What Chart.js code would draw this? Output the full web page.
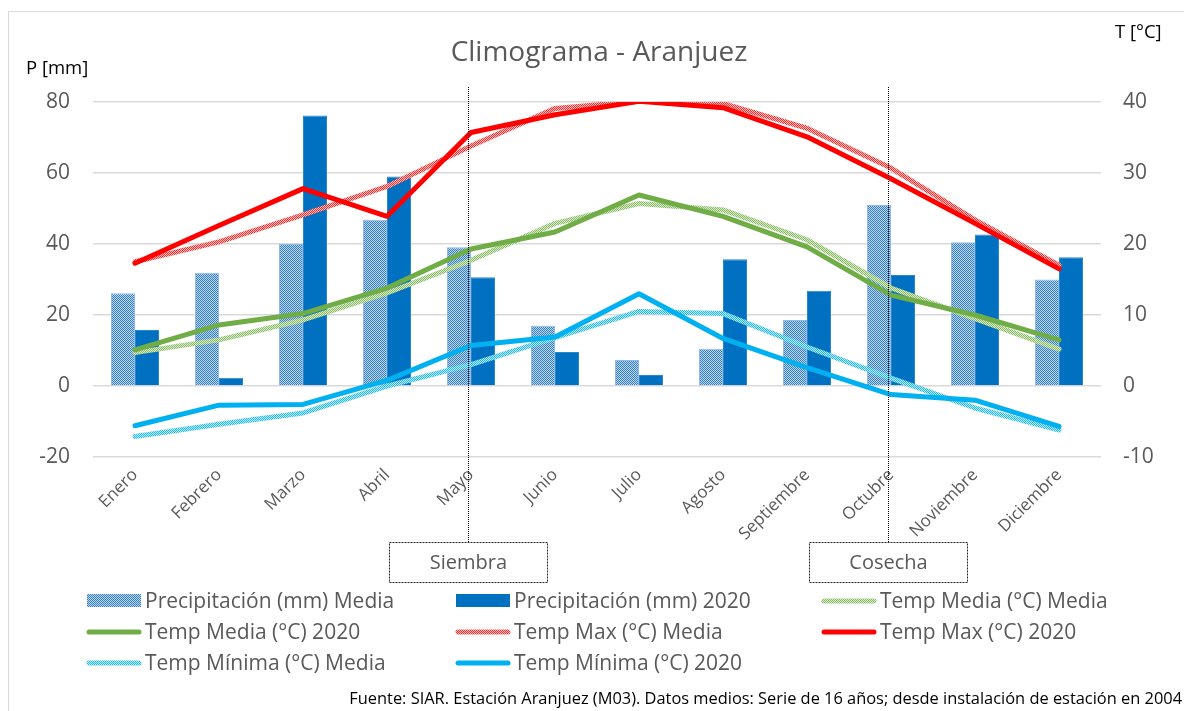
<!DOCTYPE html>
<html lang="es">
<head>
<meta charset="utf-8">
<title>Climograma - Aranjuez</title>
<script src="https://cdn.jsdelivr.net/npm/chart.js@4.4.1/dist/chart.umd.min.js"></script>
<style>
  html, body { margin: 0; padding: 0; background: #fff; overflow: hidden; }
  #wrap { position: relative; width: 1184px; height: 711px; overflow: hidden; }
  #frame { position: absolute; left: 8px; top: 11px; width: 1200px; height: 730px;
           border: 1px solid #d9d9d9; box-sizing: border-box; }
  canvas { position: absolute; left: 0; top: 0; }
</style>
</head>
<body>
<div id="wrap">
  <div id="frame"></div>
  <canvas id="c" width="1184" height="711"></canvas>
</div>
<script>
// Months on the category axis
const months = ['Enero', 'Febrero', 'Marzo', 'Abril', 'Mayo', 'Junio', 'Julio',
                'Agosto', 'Septiembre', 'Octubre', 'Noviembre', 'Diciembre'];

// Precipitation (mm)
const precipMedia = [26.1, 31.9, 40.0, 46.8, 39.1, 17.0, 7.3, 10.5, 18.6, 51.0, 40.5, 30.0];
const precip2020  = [15.8, 2.3, 76.2, 59.0, 30.6, 9.6, 3.1, 35.7, 26.8, 31.3, 42.7, 36.3];

// Temperatures (°C)
const tMediaMedia = [4.7, 6.5, 9.3, 13.1, 17.7, 22.9, 25.7, 24.8, 20.6, 13.8, 9.5, 5.2];
const tMedia2020  = [5.1, 8.6, 10.2, 13.8, 19.3, 21.7, 26.9, 23.9, 19.6, 12.8, 10.0, 6.5];
const tMaxMedia   = [17.5, 20.3, 24.1, 28.1, 33.8, 39.1, 40.1, 39.8, 36.3, 30.7, 23.4, 17.0];
const tMax2020    = [17.3, 22.6, 27.8, 23.9, 35.7, 38.2, 40.1, 39.2, 35.1, 29.2, 22.9, 16.5];
const tMinMedia   = [-7.1, -5.4, -3.8, 0.0, 3.0, 6.8, 10.5, 10.2, 5.5, 1.1, -3.1, -6.2];
const tMin2020    = [-5.6, -2.7, -2.6, 0.8, 5.7, 6.9, 13.0, 6.7, 2.6, -1.2, -2.0, -5.7];

// Axis ranges and tick steps
const pTicks = { min: -20, max: 80, step: 20 };
const tTicks = { min: -10, max: 40, step: 10 };

// Crop calendar marks (month labels they hang from)
const marks = [ { month: 'Mayo', text: 'Siembra' }, { month: 'Octubre', text: 'Cosecha' } ];

const titleText  = 'Climograma - Aranjuez';
const footerText = 'Fuente: SIAR. Estación Aranjuez (M03). Datos medios: Serie de 16 años; desde instalación de estación en 2004';

const FONT = '"Open Sans", "DejaVu Sans", sans-serif';
const GREY = '#595959';
const AREA = { left: 93, top: 102, right: 1101, bottom: 457 };

const canvas = document.getElementById('c');
const ctx = canvas.getContext('2d');

// Two-colour checker used for the long-term average series
function checker(a, b) {
  const t = document.createElement('canvas');
  t.width = 2; t.height = 2;
  const g = t.getContext('2d');
  g.fillStyle = b; g.fillRect(0, 0, 2, 2);
  g.fillStyle = a; g.fillRect(0, 0, 1, 1); g.fillRect(1, 1, 1, 1);
  return ctx.createPattern(t, 'repeat');
}

const blueDots  = checker('#3580c5', '#bcd6ef');
const greenDots = checker('#86bb62', '#dcecd0');
const redDots   = checker('#ff2a2a', '#ffc4c4');
const cyanDots  = checker('#1cb9f2', '#c2ecfc');

function lineSet(label, data, color, order) {
  return {
    type: 'line', label, data, yAxisID: 'y2', order,
    borderColor: color, backgroundColor: color, borderWidth: 5,
    pointRadius: 0, tension: 0, fill: false,
    borderJoinStyle: 'round', borderCapStyle: 'round'
  };
}

const datasets = [
  { type: 'bar', label: 'Precipitación (mm) Media', data: precipMedia, yAxisID: 'y', order: 20,
    backgroundColor: blueDots, borderColor: '#8dbbe6', borderWidth: 1,
    categoryPercentage: 0.572, barPercentage: 1 },
  { type: 'bar', label: 'Precipitación (mm) 2020', data: precip2020, yAxisID: 'y', order: 20,
    backgroundColor: '#0070c0', borderColor: '#2a86cf', borderWidth: 1,
    categoryPercentage: 0.572, barPercentage: 1 },
  lineSet('Temp Media (°C) Media', tMediaMedia, greenDots, 10),
  lineSet('Temp Media (°C) 2020', tMedia2020, '#70ad47', 0),
  lineSet('Temp Max (°C) Media', tMaxMedia, redDots, 10),
  lineSet('Temp Max (°C) 2020', tMax2020, '#ff0000', 0),
  lineSet('Temp Mínima (°C) Media', tMinMedia, cyanDots, 10),
  lineSet('Temp Mínima (°C) 2020', tMin2020, '#00b0f0', 0)
];

// Legend grid: [dataset index, column, row]
const legendCells = [[0,0,0],[1,1,0],[2,2,0],[3,0,1],[4,1,1],[5,2,1],[6,0,2],[7,1,2]];
const legendCols = [87, 456, 822];
const legendRows = [601, 632, 663];

const decorations = {
  id: 'decorations',
  afterDraw(chart) {
    const c = chart.ctx;
    const xs = chart.scales.x;
    c.save();

    // Title and axis captions
    c.fillStyle = GREY;
    c.textAlign = 'center'; c.textBaseline = 'middle';
    c.font = '28px ' + FONT;
    c.fillText(titleText, 599, 53);
    c.fillStyle = '#000';
    c.font = '18.5px ' + FONT;
    c.textAlign = 'left';
    c.fillText('P [mm]', 26, 69);
    c.fillText('T [°C]', 1115, 33);

    // Sowing / harvest markers
    marks.forEach(m => {
      const x = Math.round(xs.getPixelForValue(months.indexOf(m.month))) - 2.5;
      c.strokeStyle = '#000'; c.lineWidth = 1; c.setLineDash([1, 1]);
      c.beginPath(); c.moveTo(x, 87); c.lineTo(x, 542); c.stroke();
      c.strokeStyle = '#262626'; c.setLineDash([2, 1]);
      c.strokeRect(x - 79, 542.5, 158, 40);
      c.setLineDash([]);
      c.fillStyle = GREY; c.font = '20px ' + FONT;
      c.textAlign = 'center';
      c.fillText(m.text, x, 563);
    });

    // Legend
    c.textAlign = 'left';
    legendCells.forEach(([i, col, row]) => {
      const ds = chart.data.datasets[i];
      const x = legendCols[col], y = legendRows[row];
      if (ds.type === 'bar') {
        c.fillStyle = ds.backgroundColor;
        c.fillRect(x, y - 7, 54, 13);
      } else {
        c.strokeStyle = ds.borderColor; c.lineWidth = 5; c.lineCap = 'round';
        c.beginPath(); c.moveTo(x + 2, y); c.lineTo(x + 52, y); c.stroke();
      }
      c.fillStyle = GREY; c.font = '21px ' + FONT;
      c.fillText(ds.label, x + 58, y + 1);
    });

    // Source note
    c.fillStyle = '#000'; c.font = '16.4px ' + FONT;
    c.textAlign = 'right';
    c.fillText(footerText, 1182, 699);
    c.restore();
  }
};

const tickFont = { family: FONT, size: 21 };

const cfg = {
  type: 'bar',
  data: { labels: months, datasets },
  options: {
    responsive: false,
    animation: false,
    layout: { padding: { left: 0, right: 0, top: 0, bottom: 0 } },
    plugins: { legend: { display: false }, title: { display: false }, tooltip: { enabled: false } },
    scales: {
      x: {
        grid: { display: false, drawTicks: false },
        border: { display: false },
        ticks: { minRotation: 45, maxRotation: 45, color: GREY, padding: 8,
                 font: { family: FONT, size: 17 } },
        afterFit(s) { s.height = 254; }
      },
      y: {
        position: 'left', min: pTicks.min, max: pTicks.max,
        ticks: { stepSize: pTicks.step, color: GREY, padding: 23, font: tickFont },
        grid: { color: '#d9d9d9', lineWidth: 1.5, drawTicks: false },
        border: { display: false },
        afterFit(s) { s.width = 93; }
      },
      y2: {
        position: 'right', min: tTicks.min, max: tTicks.max,
        ticks: { stepSize: tTicks.step, color: GREY, padding: 22, font: tickFont },
        grid: { display: false, drawTicks: false },
        border: { display: false },
        afterFit(s) { s.width = 83; }
      }
    }
  },
  plugins: [decorations]
};

const chart = new Chart(ctx, cfg);

// Nudge the layout padding until the plot area sits where it should
for (let k = 0; k < 4; k++) {
  const a = chart.chartArea;
  const p = chart.options.layout.padding;
  const d = { top: AREA.top - a.top, bottom: a.bottom - AREA.bottom,
              left: AREA.left - a.left, right: a.right - AREA.right };
  if (!d.top && !d.bottom && !d.left && !d.right) break;
  chart.options.layout.padding = { top: p.top + d.top, bottom: p.bottom + d.bottom,
                                   left: p.left + d.left, right: p.right + d.right };
  chart.update();
}
</script>
</body>
</html>
